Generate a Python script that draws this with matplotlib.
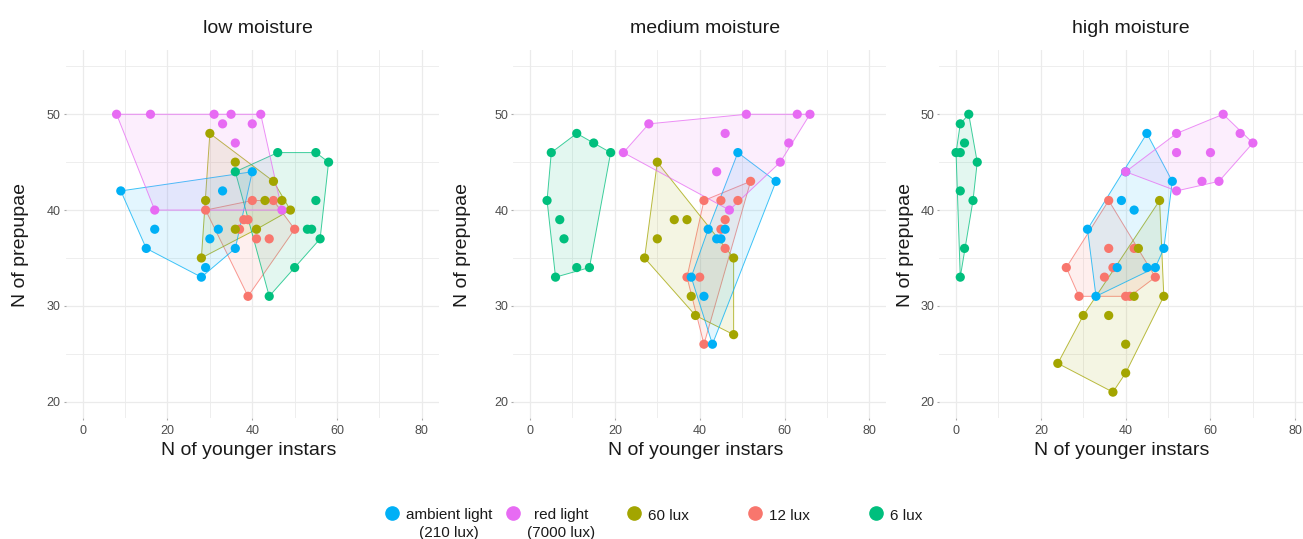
import numpy as np
import matplotlib.pyplot as plt
from matplotlib.lines import Line2D

plt.rcParams['font.family'] = ['Liberation Sans', 'DejaVu Sans']

groups = ["12 lux", "60 lux", "6 lux", "ambient light", "red light"]
colors = {"12 lux": "#F8766D", "60 lux": "#A3A500", "6 lux": "#00BF7D",
          "ambient light": "#00B0F6", "red light": "#E76BF3"}
legend_order = ["ambient light", "red light", "60 lux", "12 lux", "6 lux"]
legend_labels = ["ambient light\n(210 lux)", "red light\n(7000 lux)", "60 lux", "12 lux", "6 lux"]

panel_titles = ["low moisture", "medium moisture", "high moisture"]

# low moisture
low = {
    "ambient light": ([9, 40, 33, 17, 32, 15, 30, 36, 29, 28],
                      [42, 44, 42, 38, 38, 36, 37, 36, 34, 33]),
    "red light": ([8, 16, 31, 33, 35, 40, 42, 36, 17, 47],
                  [50, 50, 50, 49, 50, 49, 50, 47, 40, 40]),
    "60 lux": ([30, 36, 45, 29, 43, 47, 49, 36, 41, 28],
               [48, 45, 43, 41, 41, 41, 40, 38, 38, 35]),
    "12 lux": ([29, 40, 45, 38, 39, 37, 50, 41, 44, 39],
               [40, 41, 41, 39, 39, 38, 38, 37, 37, 31]),
    "6 lux": ([46, 55, 58, 36, 55, 53, 54, 56, 50, 44],
              [46, 46, 45, 44, 41, 38, 38, 37, 34, 31]),
}

# medium moisture
medium = {
    "ambient light": ([49, 58, 42, 46, 44, 45, 41, 43, 38],
                      [46, 43, 38, 38, 37, 37, 31, 26, 33]),
    "red light": ([28, 51, 63, 66, 46, 61, 22, 59, 44, 47],
                  [49, 50, 50, 50, 48, 47, 46, 45, 44, 40]),
    "60 lux": ([30, 34, 37, 30, 27, 48, 38, 39, 48],
               [45, 39, 39, 37, 35, 35, 31, 29, 27]),
    "12 lux": ([52, 41, 45, 49, 46, 45, 46, 37, 40, 41],
               [43, 41, 41, 41, 39, 38, 36, 33, 33, 26]),
    "6 lux": ([11, 15, 5, 19, 4, 7, 8, 11, 14, 6],
              [48, 47, 46, 46, 41, 39, 37, 34, 34, 33]),
}

# high moisture
high = {
    "ambient light": ([45, 51, 40, 39, 42, 31, 49, 38, 45, 47, 33],
                      [48, 43, 44, 41, 40, 38, 36, 34, 34, 34, 31]),
    "red light": ([63, 52, 67, 52, 60, 70, 40, 58, 62, 52],
                  [50, 48, 48, 46, 46, 47, 44, 43, 43, 42]),
    "60 lux": ([48, 43, 42, 49, 30, 36, 40, 24, 40, 37],
               [41, 36, 31, 31, 29, 29, 26, 24, 23, 21]),
    "12 lux": ([36, 36, 42, 26, 37, 35, 47, 29, 40, 41],
               [41, 36, 36, 34, 34, 33, 33, 31, 31, 31]),
    "6 lux": ([3, 1, 2, 0, 1, 5, 1, 4, 2, 1],
              [50, 49, 47, 46, 46, 45, 42, 41, 36, 33]),
}

panels = [low, medium, high]


def convex_hull(px, py):
    pts = sorted(set(zip(px, py)))
    if len(pts) < 3:
        return pts

    def cross(o, a, b):
        return (a[0] - o[0]) * (b[1] - o[1]) - (a[1] - o[1]) * (b[0] - o[0])

    lower, upper = [], []
    for p in pts:
        while len(lower) >= 2 and cross(lower[-2], lower[-1], p) <= 0:
            lower.pop()
        lower.append(p)
    for p in reversed(pts):
        while len(upper) >= 2 and cross(upper[-2], upper[-1], p) <= 0:
            upper.pop()
        upper.append(p)
    return lower[:-1] + upper[:-1]


fig = plt.figure(figsize=(13.03, 5.39), dpi=100)

# axes positions (left, width) in figure fraction
lefts = [0.0504, 0.3938, 0.7207]
ylab_x = [-0.122, -0.135, -0.091]
grid_col = "#ebebeb"

for i, data in enumerate(panels):
    ax = fig.add_axes([lefts[i], 0.2236, 0.2864, 0.6844])
    ax.set_xlim(-4, 84)
    ax.set_ylim(18.25, 56.75)
    for s in ax.spines.values():
        s.set_visible(False)
    ax.set_xticks([0, 20, 40, 60, 80])
    ax.set_yticks([20, 30, 40, 50])
    ax.set_xticks([10, 30, 50, 70], minor=True)
    ax.set_yticks([25, 35, 45, 55], minor=True)
    ax.grid(True, which='major', color=grid_col, lw=0.9)
    ax.grid(True, which='minor', color=grid_col, lw=0.6)
    ax.set_axisbelow(True)
    ax.tick_params(which='major', length=1.5, width=0.8, color='#aaaaaa',
                   labelsize=9, labelcolor='#4d4d4d')
    ax.tick_params(axis='y', pad=2)
    ax.tick_params(axis='x', pad=3)
    ax.tick_params(which='minor', length=0)

    for g in groups:
        gx, gy = data[g]
        hull = convex_hull(gx, gy)
        hx = [p[0] for p in hull]
        hy = [p[1] for p in hull]
        ax.fill(hx, hy, color=colors[g], alpha=0.11, lw=0)
        ax.fill(hx, hy, facecolor='none', edgecolor=colors[g], lw=0.7, alpha=0.75)
    for g in groups:
        gx, gy = data[g]
        ax.scatter(gx, gy, s=44, color=colors[g], edgecolor='none', zorder=3)

    ax.set_title(panel_titles[i], fontsize=14, x=0.515, y=1.023, color='#1a1a1a')
    ax.set_xlabel("N of younger instars", fontsize=14, color='#1a1a1a')
    ax.xaxis.set_label_coords(0.49, -0.086)
    ax.xaxis.label.set_va('center')
    ax.set_ylabel("N of prepupae", fontsize=14, color='#1a1a1a')
    ax.yaxis.set_label_coords(ylab_x[i], 0.47)
    ax.yaxis.label.set_va('center')

# legend at the bottom
W, H = 1303, 539
x0, step = 392, 121
dot_y = (H - 513) / H
text_top = (H - 508.5) / H
for i, (g, lab) in enumerate(zip(legend_order, legend_labels)):
    xd = (x0 + i * step) / W
    fig.add_artist(Line2D([xd], [dot_y], marker='o', markersize=9.5, color=colors[g],
                          linestyle='none', transform=fig.transFigure))
    fig.text(xd + 14 / W, text_top, lab, fontsize=11, color='#1a1a1a',
             ha='left', va='top', multialignment='center', linespacing=1.3)

fig.savefig("out.png", dpi=100)
